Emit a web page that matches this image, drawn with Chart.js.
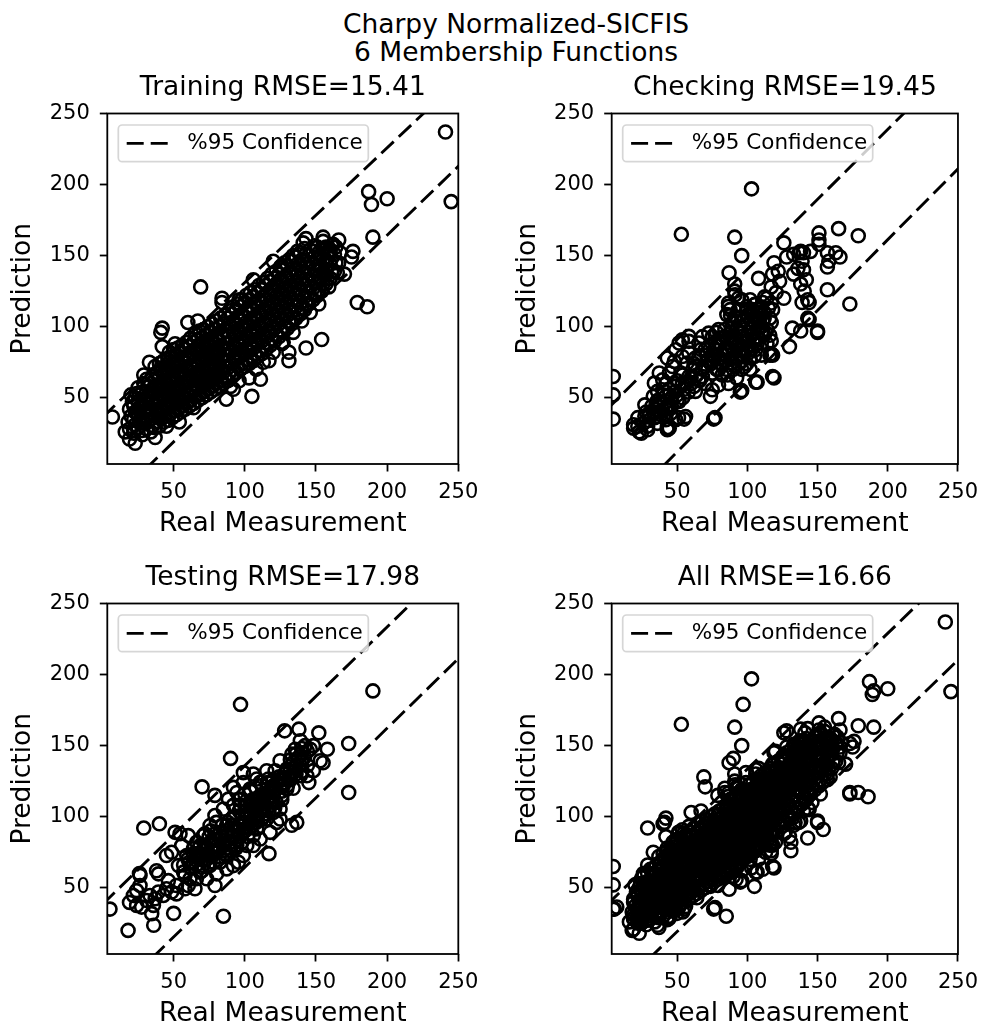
<!DOCTYPE html>
<html>
<head>
<meta charset="utf-8">
<script src="https://cdn.jsdelivr.net/npm/chart.js@4.4.1/dist/chart.umd.min.js"></script>
<style>
  body { margin:0; background:#fff; width:986px; height:1033px; position:relative; overflow:hidden; font-family:"DejaVu Sans", sans-serif; }
  #sup { position:absolute; left:30px; top:10px; width:972px; text-align:center; font-size:26.5px; line-height:28.4px; color:#000; }
  .panel { position:absolute; width:493px; height:483px; }
  canvas { display:block; }
</style>
</head>
<body>
<div id="sup">Charpy Normalized-SICFIS<br>6 Membership Functions</div>
<div class="panel" style="left:0;top:60px"><canvas id="c1" width="493" height="483"></canvas></div>
<div class="panel" style="left:493px;top:60px"><canvas id="c2" width="493" height="483"></canvas></div>
<div class="panel" style="left:0;top:550px"><canvas id="c3" width="493" height="483"></canvas></div>
<div class="panel" style="left:493px;top:550px"><canvas id="c4" width="493" height="483"></canvas></div>
<script>
/**** Charpy SICFIS prediction vs measurement, 2x2 scatter ****/

const tickValues  = [50, 100, 150, 200, 250];
const axisRange   = [3.4, 250];
const panelTitles = ["Training RMSE=15.41", "Checking RMSE=19.45", "Testing RMSE=17.98", "All RMSE=16.66"];
const xLabel = "Real Measurement";
const yLabel = "Prediction";
const legendLabel = "%95 Confidence";

// [real, predicted] (dense cores estimated)
const trainPts = [
  [19,28],[18,33],[20,37],[19,42],[21,47],
  [22,27],[23,31],[22,35],[23,40],[22,44],[23,50],
  [25,29],[26,34],[25,38],[26,43],[25,47],[26,52],[25,57],
  [28,27],[29,32],[28,36],[29,41],[28,45],[29,49],[28,54],[29,60],
  [31,28],[32,33],[31,37],[32,41],[31,46],[32,50],[31,54],[32,58],[31,63],
  [34,26],[35,30],[34,35],[35,39],[34,43],[35,47],[34,52],[35,56],[34,60],[35,65],
  [37,29],[38,33],[37,37],[38,42],[37,46],[38,50],[37,54],[38,59],[37,63],[38,67],[37,72],
  [40,30],[41,35],[40,39],[41,43],[40,47],[41,52],[40,56],[41,60],[40,64],[41,69],[40,74],
  [43,33],[44,37],[43,41],[44,45],[43,50],[44,54],[43,58],[44,62],[43,66],[44,71],[43,76],
  [46,34],[47,38],[46,43],[47,47],[46,51],[47,55],[46,59],[47,63],[46,68],[47,72],[46,77],[47,82],
  [49,36],[50,41],[49,45],[50,49],[49,53],[50,57],[49,61],[50,66],[49,70],[50,74],[49,79],[50,84],
  [52,38],[53,42],[52,46],[53,50],[52,54],[53,58],[52,62],[53,67],[52,71],[53,75],[52,80],[53,85],
  [55,40],[56,44],[55,48],[56,52],[55,56],[56,61],[55,65],[56,69],[55,73],[56,78],[55,82],[56,87],
  [58,42],[59,46],[58,50],[59,54],[58,58],[59,62],[58,66],[59,71],[58,75],[59,79],[58,84],[59,89],
  [61,44],[62,48],[61,52],[62,57],[61,61],[62,65],[61,69],[62,73],[61,78],[62,82],[61,86],[62,92],
  [64,46],[65,51],[64,55],[65,59],[64,63],[65,67],[64,71],[65,76],[64,80],[65,84],[64,89],[65,95],
  [67,48],[68,52],[67,57],[68,61],[67,65],[68,69],[67,73],[68,78],[67,82],[68,86],[67,91],[68,97],
  [70,50],[71,54],[70,58],[71,62],[70,66],[71,71],[70,75],[71,79],[70,83],[71,88],[70,92],[71,98],
  [73,52],[74,56],[73,60],[74,64],[73,68],[74,72],[73,77],[74,81],[73,85],[74,89],[73,94],[74,100],
  [76,54],[77,58],[76,62],[77,66],[76,70],[77,74],[76,78],[77,83],[76,87],[77,91],[76,96],[77,102],
  [79,56],[80,60],[79,64],[80,68],[79,72],[80,76],[79,80],[80,84],[79,88],[80,93],[79,98],[80,104],
  [82,58],[83,62],[82,66],[83,70],[82,74],[83,78],[82,82],[83,86],[82,90],[83,95],[82,100],[83,106],
  [85,60],[86,64],[85,68],[86,72],[85,76],[86,80],[85,84],[86,88],[85,92],[86,97],[85,102],[86,108],
  [88,62],[89,67],[88,71],[89,76],[88,80],[89,84],[88,88],[89,93],[88,97],[89,102],[88,106],[89,111],
  [91,66],[92,70],[91,74],[92,78],[91,83],[92,87],[91,91],[92,96],[91,100],[92,104],[91,109],[92,114],
  [94,68],[95,72],[94,77],[95,81],[94,85],[95,89],[94,94],[95,98],[94,102],[95,107],[94,112],[95,116],
  [97,70],[98,74],[97,79],[98,83],[97,87],[98,92],[97,96],[98,100],[97,105],[98,109],[97,114],[98,119],
  [100,72],[101,77],[100,81],[101,85],[100,90],[101,94],[100,98],[101,103],[100,107],[101,112],[100,117],[101,122],
  [103,74],[104,79],[103,83],[104,88],[103,92],[104,96],[103,101],[104,105],[103,110],[104,114],[103,119],[104,124],
  [106,76],[107,81],[106,85],[107,90],[106,94],[107,99],[106,103],[107,107],[106,112],[107,117],[106,121],[107,126],
  [109,79],[110,83],[109,88],[110,92],[109,96],[110,101],[109,105],[110,110],[109,114],[110,119],[109,124],[110,129],
  [112,81],[113,86],[112,90],[113,95],[112,99],[113,103],[112,108],[113,112],[112,117],[113,121],[112,126],[113,131],
  [115,84],[116,88],[115,93],[116,97],[115,101],[116,106],[115,110],[116,115],[115,119],[116,124],[115,129],[116,134],
  [118,87],[119,91],[118,96],[119,100],[118,104],[119,109],[118,113],[119,118],[118,122],[119,127],[118,132],[119,137],
  [121,90],[122,94],[121,99],[122,103],[121,107],[122,112],[121,116],[122,121],[121,125],[122,130],[121,134],[122,139],
  [124,93],[125,97],[124,102],[125,106],[124,110],[125,115],[124,119],[125,124],[124,128],[125,133],[124,137],[125,142],
  [127,96],[128,100],[127,105],[128,109],[127,113],[128,118],[127,122],[128,127],[127,131],[128,135],[127,140],[128,145],
  [130,99],[131,103],[130,108],[131,112],[130,116],[131,121],[130,125],[131,129],[130,134],[131,138],[130,143],[131,147],
  [133,102],[134,106],[133,111],[134,115],[133,119],[134,124],[133,128],[134,132],[133,137],[134,141],[133,146],[134,150],
  [136,106],[137,110],[136,114],[137,118],[136,123],[137,127],[136,131],[137,136],[136,140],[137,144],[136,149],[137,153],
  [139,109],[140,113],[139,117],[140,122],[139,126],[140,130],[139,134],[140,139],[139,143],[140,147],[139,152],
  [142,112],[143,116],[142,121],[143,125],[142,129],[143,133],[142,138],[143,142],[142,146],[143,151],[142,155],
  [145,116],[146,120],[145,124],[146,128],[145,133],[146,137],[145,141],[146,145],[145,150],[146,154],
  [148,119],[149,123],[148,127],[149,132],[148,136],[149,140],[148,144],[149,149],[148,153],[149,157],
  [151,122],[152,126],[151,131],[152,135],[151,139],[152,143],[151,148],[152,152],[151,156],
  [154,125],[155,130],[154,134],[155,138],[154,142],[155,147],[154,151],[155,155],
  [157,130],[158,134],[157,139],[158,143],[157,147],[158,152],[157,156],
  [160,134],[161,139],[160,144],[161,148],[160,153],[161,157],
  [163,139],[164,145],[163,151],[164,156],
  [166,145],[167,152],
  // sparse edges
  [20,52],[24,53],[29,66],[33,75],[41,96],[42,86],[51,88],[60,103],[67,104],[84,117],[96,119],[106,133],
  [120,146],[126,143],[141,159],[155,160],[162,158],[143,162],[155,163],[166,161],[176,153],[175,149],[170,137],
  [16,26],[19,21],[23,18],[22,25],[28,24],[37,22],[45,30],[54,33],[7,36.5],[64,43],[87,49],[90,58],[96,62],
  [92,56],[105,51],[111,63],[103,64],[108,70],[113,75],[117,76],[120,82],[126,88],[131,76],[131,82],[127,89],
  [134,96],[140,104],[143,85],[154,91],[146,110],[152,116],[159,128],[165,138],
  // outliers
  [241,237],[245,188],[187,195],[189,186],[200,190],[190,163],[179,117],[186,114],[69,128],[84,120],[42,99]
];

const checkPts = [
  [103,197],[53,165],[91,163],[96,150],[87,138],[91,130],[91,125],[108,134],[126,159],[128,149],[138,153],
  [140,152],[151,166],[151,161],[151,158],[165,169],[179,164],[157,152],[163,152],[166,149],[158,146],[157,142],
  [157,126],[173,116],[150,96],[143,106],[138,97],[130,86],[117,81],[119,64],[107,61],[96,55],[77,36],
  [4.5,65],[4.5,52],[4.5,35],
  [19,31],[22,36],[24.5,25],[29,30],[30,37],[36,32],[38.5,38],[43,29],[44,44],[51,36],[55,35],[27,45],[35,45],
  [19,28.6],[23,26],[29,27.5],[27,37],[30,39],[43,27.5],
  [119,145],[118,137],[122,139],[123,132],[117,128],[120.5,124],[126,120],[133,151],[137,152],[139,146],
  [136,141],[133,137],[140,140],[142,133],[138,130],[140.5,125],[143,119],[139,117],[144,117],[145,153],
  [144,105],[132,99],[150,97],[118,80],[118,65],[106,61],[95,54],[76,35],
  [102,119],[105,115.5],[111,117],[108,112],[112,110],[115,113],[103,110],[98,105],[105,103],[110,100],
  [117,103],[112,94],[117,90],[110,88.5],[116,80],[105,79],[103,84],[99.5,74],[96,70],[91,72],[95,79],
  [90,81.5],[88,88.5],[84,84],[79.5,88.5],[75,93],[72.5,95.5],[68,93],[65.5,88.5],[70,84],[77,79],[82,74],
  [85,70],[86.6,60],[79.5,59],[75,55.6],[73.7,51],[63,54.5],[65.5,62.7],[61,69.7],[57,74.4],[58.4,81.5],
  [53.7,79],[51.4,88.5],[53.7,90.8],[58.4,93.2],[49,83.8],[48,75.6],[46.7,72],[52.6,67.4],[48,60.3],[49,54.5],
  [42,51],[36,54.5],[33.8,60.3],[37.3,67.4],[39.7,62.7],[44.4,45],[39.7,41.6],[36,36.8],[42,34.5],[44.4,28.6],
  [56,36.8],[51.4,47.4],[58.4,89.7],[86.6,116.7],[87.7,112],[89,102.6],[92.4,98],[96,93],[100.6,89.7],
  [91.3,122.5],[93.6,120],[86.6,114.3],[85.4,108.5],
  [98,98],[103,100],[108,105],[105,95.5],[100.6,81.5],[96,84],[91,88.5],[84,93],[79.5,98],[77,88.5],[72.5,86],
  [65.5,79],[63,72],[70,72],[75,67.4],[68,65],[79.5,69.7],[89,74.4],[92.4,64],[58.4,65],[53.7,60.3],[42,60.3],
  [44.4,67.4],[39.7,55.6],[37.3,46.3],[33,51],[35,41.6],[45.6,39.2],[49,34.5],[96,119],[99.5,114],[112.4,121],
  [117,116.7],[93.6,112],[91.3,107],[103,105],[43,78],
  [75,80],[80,78],[84,76],[88,77],[92,78],[96,76],[102,78],[106,84],[104,90],[108,92],[110,96],[114,98],
  [108,100],[100,94],[96,90],[92,92],[88,96],[84,98],[80,92],[74,74],[78,70],[82,66],[86,66],[90,70],[94,74],
  [98,72],[102,70],[110,80],[114,88],[116,94],[112,106],[108,110],[104,112],[100,108],[96,104],[92,106],
  [88,108],[106,106],[110,114],[114,120],[118,112],[116,106],
  [28,40],[32,44],[36,48],[40,52],[44,56],[48,58],[50,62],[54,66],[56,60],[60,64],[62,58],[58,54],[54,50],
  [50,48],[46,44],[42,42],[38,40],[34,36],[30,34],[26,32],[22,30],[62,74],[66,62],[70,60],
  [81,81],[86,85],[94,88],[99,84],[103,94],[107,88],[111,104],[106,116],[100,112],[95,100],[89,99],[86,92],
  [81,88],[77,84],[72,76],[68,70],[64,66],[60,60],[55,56],[50,52],[46,50],[41,46],[37,44],[33,40],
  [78,96],[82,92],[87,84],[93,86],[97,80],[101,86],[106,90],[109,106],[113,96],[104,108],[99,110],[94,96],
  [89,92],[83,80],[76,76],[71,80],[67,84],[63,78]
];

const testPts = [
  [190,188.5],[97,179],[173,151.5],[173,117],[152,159],[158,147.5],[153,139.4],[155,138],[138,161.6],
  [128,160.4],[90,141],[70,121],[79,115],[29,92],[40,95],[26,60],[38,62],[5.3,35],[18,20],[36,23.6],
  [50,32],[85,30],[117,74],[136.5,96],[133,94],[145,124],
  [19,39.7],[21.7,44.6],[24,37.6],[27.5,36.4],[31,41],[33.4,44.6],[37,42.3],[39.3,47],[42.8,44.6],[45,49.3],
  [48.6,47],[52,45.7],[34.6,31.8],[35.8,37.6],[26.4,51.6],[24,48],[39.3,59.8],[46.3,55],[52,51.6],[58,49.3],
  [60.3,51.6],[65,49.3],[66,56.3],[57,61],[53.4,65.7],[48.6,75],[45,72.7],[51,89],[54.5,88],[26.4,58.7],
  [99,131],[106,130],[108.4,126.5],[115.4,132.3],[121.3,132.3],[124.8,139.4],[139,153.4],[142.4,150],
  [140,145],[133,144],[134,138],[139,136],[146,147.5],[139,128.8],[132,126.5],[129.5,119.5],[126,114.8],
  [120,110],[124.8,105.4],[122.4,96],[117.8,89],[110.8,84.3],[106,86.7],[101.4,79.7],[99,72.7],[95.5,68],
  [92,65.6],[87.3,63.3],[80.2,59.8],[79,51.6],[73.2,56.3],[68.6,61],[61.5,56.3],[58,58.7],[59.2,72.7],
  [55.7,79.7],[60.3,86.7],[66.2,82],[70.9,86.7],[75.6,93.8],[79,100.8],[84.9,105.4],[88.5,112.4],[94.4,117],
  [99,124],[96.7,112.4],[101.4,107.8],[106,112.4],[110.8,114.8],[115.4,119.5],[120,121.8],[113,105.4],
  [108.4,100.8],[103.7,96],[96.7,93.8],[92,98.4],[87.3,93.8],[82.6,89],[77.9,84.3],[73.2,77.4],[68.6,72.7],
  [63.9,68],[63.9,77.4],[68.6,79.7],[75.6,72.7],[80.2,75],[84.9,79.7],[89.6,82],[94.4,79.7],[82.6,68],
  [75.6,65.6],[70.9,65.6],[87.3,72.7],[92,86.7],[99,89],[101.4,100.8],[106,79.7],[108.4,91.4],[115.4,98.4],
  [120,103],[124.8,98.4],[127,121.8],[134.2,131.2],[129.5,133.5],[140,138.2],[135.4,147.5],[148.2,150],
  [148.2,132.4],[143.6,128.8],[116.6,126.5],[124.8,126.5],[110.8,124.2],[103.7,119.5],[92,120.6],
  [60,70],[64,74],[68,78],[72,80],[76,82],[80,84],[84,86],[88,88],[92,90],[62,64],[66,66],[70,70],[74,74],
  [78,76],[82,78],[86,80],[90,82],[94,84],[70,62],[74,66],[78,68],[82,72],[86,74],[90,76],[94,78],[98,82],
  [102,86],[88,96],[92,100],[96,104],[100,108],[104,110],[108,108],[112,110],[116,112],[120,114],[96,94],
  [100,96],[104,100],[108,102],[112,104],[116,106],[100,90],[104,92],[108,96],[112,98],[92,108],[96,112],
  [100,116],[104,118],[108,120],[112,122],[116,124],[120,126],[124,128],[128,130],[132,132],[136,136],
  [140,140],[128,124],[132,126],[136,130],[140,132],[144,136],[132,140],[136,144],[140,148],[144,146],
  [126,118],[130,122],[134,120],[122,110],[126,112],[118,118],[84,94],[80,96],[76,90],[72,88],
  [66,74],[71,77],[78,80],[85,83],[90,92],[95,90],[98,100],[103,104],[107,106],[111,110],[115,116],
  [119,120],[123,124],[127,126],[131,128],[135,134],[138,142],[142,142],[118,108],[114,102],[106,98],
  [57,66],[61,68],[65,70],[69,74],[73,70],[77,72],[81,76],[85,76],[89,78],[93,82],[97,86],[101,92],
  [105,94],[109,98],[113,100],[117,104],[121,106],[97,108],[101,104],[105,108],[109,112],[113,114],
  [117,114],[121,118],[125,122],[91,94],[87,90],[83,84],[79,88],[75,86]
];

// confidence band end points [real, predicted]
const trainUpper = [[0,36.3],[230,254.3]], trainLower = [[30,-0.4],[255,217.7]];
const checkUpper = [[0,41.8],[215,253.6]], checkLower = [[40,1.9],[255,216]];
const testUpper  = [[0,38.3],[220,253]],   testLower  = [[35,0.7],[255,216.1]];
const allUpper   = [[0,38],[225,252.9]],   allLower   = [[30,0.1],[255,215]];

Chart.defaults.font.family = "'DejaVu Sans', sans-serif";
Chart.defaults.color = "#000";

const dash = [17, 7];
const toXY = arr => arr.map(p => ({x: p[0], y: p[1]}));

// full box + legend drawn over the points, like matplotlib
const frameLegend = {
  id: "frameLegend",
  afterDatasetsDraw(chart) {
    const {ctx, chartArea: a} = chart;
    ctx.save();
    ctx.strokeStyle = "#000";
    ctx.lineWidth = 1.8;
    ctx.strokeRect(a.left, a.top, a.right - a.left, a.bottom - a.top);

    const bx = a.left + 11, by = a.top + 11.5, bw = 250, bh = 36.7;
    ctx.beginPath();
    ctx.roundRect(bx, by, bw, bh, 4);
    ctx.fillStyle = "rgba(255,255,255,0.8)";
    ctx.fill();
    ctx.strokeStyle = "rgba(204,204,204,0.8)";
    ctx.lineWidth = 1.7;
    ctx.stroke();

    const my = by + bh / 2;
    ctx.strokeStyle = "#000";
    ctx.lineWidth = 2.9;
    ctx.setLineDash(dash);
    ctx.beginPath();
    ctx.moveTo(bx + 8.4, my);
    ctx.lineTo(bx + 51.7, my);
    ctx.stroke();
    ctx.setLineDash([]);

    ctx.fillStyle = "#000";
    ctx.font = "21.5px 'DejaVu Sans'";
    ctx.textBaseline = "middle";
    ctx.fillText(legendLabel, bx + 69, my);
    ctx.restore();
  }
};

function axis(label, isX) {
  return {
    type: "linear",
    min: axisRange[0],
    max: axisRange[1],
    afterBuildTicks: s => { s.ticks = tickValues.map(v => ({value: v})); },
    afterFit: s => { if (isX) s.height = 79; else s.width = 107.3; },
    ticks: { font: {size: 21}, color: "#000", padding: isX ? 8 : 10, maxRotation: 0, autoSkip: false,
             callback: v => String(v) },
    grid: { drawOnChartArea: false, drawTicks: true, tickLength: 7.5, tickWidth: 1.8, tickColor: "#000" },
    border: { display: false },
    title: { display: true, text: label, font: {size: 26.5}, color: "#000",
             padding: isX ? {top: 0, bottom: 2.9} : {top: 7.4, bottom: 0} }
  };
}

function makePanel(id, title, pts, upper, lower, rightCol) {
  new Chart(document.getElementById(id), {
    type: "scatter",
    data: {
      datasets: [
        { type: "line", data: toXY(upper), borderColor: "#000", borderWidth: 2.9, borderDash: dash,
          pointRadius: 0, fill: false, clip: 0, order: 0 },
        { type: "line", data: toXY(lower), borderColor: "#000", borderWidth: 2.9, borderDash: dash,
          pointRadius: 0, fill: false, clip: 0, order: 0 },
        { data: toXY(pts), pointRadius: 6.5, borderWidth: 2.6, pointBorderWidth: 2.6,
          borderColor: "#000", pointBorderColor: "#000",
          backgroundColor: "rgba(0,0,0,0)", pointBackgroundColor: "rgba(0,0,0,0)",
          showLine: false, clip: 0, order: 1 }
      ]
    },
    options: {
      responsive: false,
      animation: false,
      events: [],
      layout: { padding: { left: rightCol ? 11.4 : 0, top: 0, right: rightCol ? 24.3 : 34.7, bottom: 0 } },
      scales: { x: axis(xLabel, true), y: axis(yLabel, false) },
      plugins: {
        legend: { display: false },
        tooltip: { enabled: false },
        title: { display: true, text: title, fullSize: false, color: "#000",
                 font: {size: 26.5, weight: "normal"}, padding: {top: 12.1, bottom: 9.6} }
      }
    },
    plugins: [frameLegend]
  });
}

makePanel("c1", panelTitles[0], trainPts, trainUpper, trainLower, false);
makePanel("c2", panelTitles[1], checkPts, checkUpper, checkLower, true);
makePanel("c3", panelTitles[2], testPts, testUpper, testLower, false);
makePanel("c4", panelTitles[3], trainPts.concat(checkPts, testPts), allUpper, allLower, true);
</script>
</body>
</html>
